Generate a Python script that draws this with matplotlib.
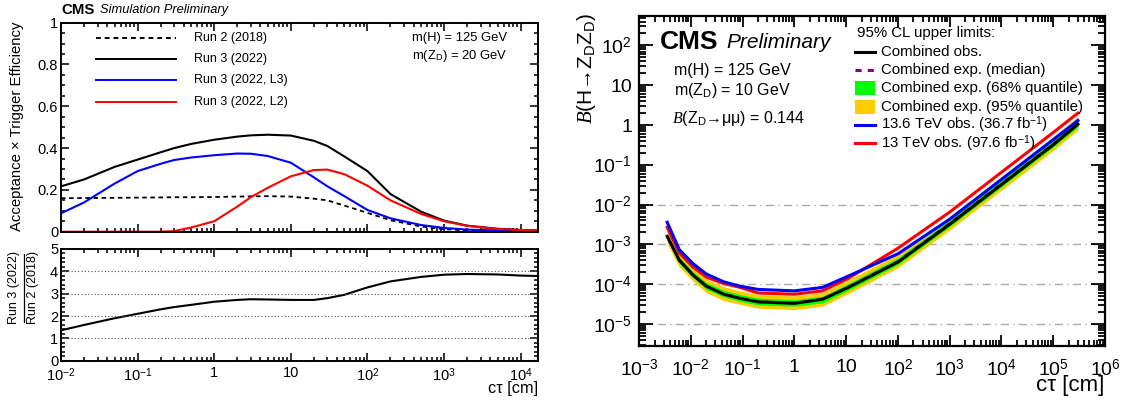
import numpy as np
import matplotlib
matplotlib.use("Agg")
import matplotlib.pyplot as plt
from matplotlib.ticker import LogLocator, FuncFormatter, MultipleLocator, NullFormatter
from matplotlib.lines import Line2D
from matplotlib.patches import Rectangle

# ---- left: acceptance x trigger efficiency vs ctau (m(ZD) = 20 GeV)
ct_eff = [0.01, 0.02, 0.05, 0.1, 0.2, 0.3, 0.5, 1, 2, 3, 5, 10, 20, 30, 50,
          100, 200, 500, 1000, 2000, 5000, 1e4, 1.7e4]
eff_run2 = [0.160, 0.161, 0.162, 0.163, 0.164, 0.165, 0.165, 0.166, 0.168, 0.169, 0.170, 0.168,
            0.158, 0.150, 0.125, 0.090, 0.055, 0.025, 0.012, 0.006, 0.003, 0.002, 0.0015]
eff_run3 = [0.217, 0.250, 0.310, 0.345, 0.380, 0.400, 0.420, 0.440, 0.455, 0.461, 0.464, 0.460,
            0.435, 0.410, 0.360, 0.290, 0.180, 0.096, 0.053, 0.029, 0.014, 0.008, 0.006]
eff_l3 = [0.088, 0.140, 0.230, 0.290, 0.325, 0.343, 0.355, 0.366, 0.374, 0.373, 0.362, 0.330,
          0.260, 0.217, 0.170, 0.104, 0.064, 0.032, 0.018, 0.010, 0.006, 0.003, 0.002]
eff_l2 = [0.0, 0.0, 0.0, 0.0, 0.0, 0.003, 0.020, 0.050, 0.120, 0.165, 0.210, 0.265,
          0.295, 0.297, 0.275, 0.220, 0.150, 0.085, 0.050, 0.028, 0.013, 0.008, 0.006]
ratio = [1.36, 1.60, 1.90, 2.10, 2.30, 2.40, 2.50, 2.64, 2.72, 2.75, 2.74, 2.72,
         2.72, 2.80, 2.95, 3.28, 3.55, 3.75, 3.85, 3.88, 3.86, 3.81, 3.79]

# ---- right: 95% CL upper limits on B(H->ZDZD), m(ZD) = 10 GeV
ct_lim = [0.0035, 0.006, 0.011, 0.02, 0.043, 0.09, 0.2, 1.0, 3.5, 11, 100, 1000, 1e4, 1e5, 3e5]
obs_comb = [1.6e-3, 4.0e-4, 1.7e-4, 8.9e-5, 5.6e-5, 4.4e-5, 3.6e-5, 3.3e-5, 4.2e-5, 8.3e-5,
            3.6e-4, 3.2e-3, 3.2e-2, 0.32, 1.05]
exp_med = [1.55e-3, 4.0e-4, 1.75e-4, 9.0e-5, 5.8e-5, 4.5e-5, 3.7e-5, 3.4e-5, 4.1e-5, 8.5e-5,
           3.8e-4, 3.4e-3, 3.4e-2, 0.34, 1.1]
exp_68_lo = [1.27e-3, 3.3e-4, 1.45e-4, 7.4e-5, 4.8e-5, 3.7e-5, 3.0e-5, 2.8e-5, 3.4e-5, 7.0e-5,
             3.1e-4, 2.8e-3, 2.8e-2, 0.28, 0.90]
exp_68_hi = [1.9e-3, 4.9e-4, 2.1e-4, 1.1e-4, 7.1e-5, 5.5e-5, 4.5e-5, 4.1e-5, 5.0e-5, 1.04e-4,
             4.6e-4, 4.1e-3, 4.1e-2, 0.41, 1.34]
exp_95_lo = [1.05e-3, 2.7e-4, 1.2e-4, 6.1e-5, 3.9e-5, 3.1e-5, 2.5e-5, 2.3e-5, 2.8e-5, 5.8e-5,
             2.6e-4, 2.3e-3, 2.3e-2, 0.23, 0.75]
exp_95_hi = [2.3e-3, 6.0e-4, 2.6e-4, 1.35e-4, 8.7e-5, 6.8e-5, 5.5e-5, 5.1e-5, 6.2e-5, 1.28e-4,
             5.7e-4, 5.1e-3, 5.1e-2, 0.51, 1.65]
obs_136 = [3.6e-3, 7.4e-4, 3.3e-4, 1.8e-4, 1.15e-4, 8.9e-5, 7.4e-5, 6.8e-5, 8.3e-5, 1.6e-4,
           5.8e-4, 4.3e-3, 4.3e-2, 0.43, 1.3]
obs_13 = [2.7e-3, 6.1e-4, 2.7e-4, 1.5e-4, 1.04e-4, 8.3e-5, 6.0e-5, 5.6e-5, 6.8e-5, 1.4e-4,
          8.0e-4, 6.5e-3, 6.5e-2, 0.65, 2.0]

plt.rcParams['font.family'] = ['Liberation Sans', 'DejaVu Sans']
plt.rcParams['mathtext.fontset'] = 'custom'
plt.rcParams['mathtext.rm'] = 'Liberation Sans'
plt.rcParams['mathtext.it'] = 'Liberation Serif:italic'
plt.rcParams['mathtext.bf'] = 'Liberation Sans:bold'

W, H = 1126, 403


def fpos(x, y):
    # pixel position in the reference -> figure fraction
    return x / W, 1 - y / H


def pow10_fmt(lo, hi):
    # ROOT-like labels: 10^n, but plain 1 and 10; nothing outside the range
    def f(v, pos):
        if v < lo * 0.999 or v > hi * 1.001:
            return ''
        e = int(round(np.log10(v)))
        if e == 0:
            return '1'
        if e == 1:
            return '10'
        return r'$10^{%d}$' % e
    return FuncFormatter(f)


def root_style(ax, lw, maj, mino):
    for s in ax.spines.values():
        s.set_linewidth(lw)
    ax.tick_params(which='both', direction='in', top=True, right=True, width=lw * 0.8)
    ax.tick_params(which='major', length=maj)
    ax.tick_params(which='minor', length=mino)


fig = plt.figure(figsize=(W / 100, H / 100), dpi=100)

ax1 = fig.add_axes([61 / W, 1 - 231.7 / H, 477.3 / W, 209 / H])
ax2 = fig.add_axes([61 / W, 1 - 360.7 / H, 477.3 / W, 111.7 / H], sharex=ax1)
ax3 = fig.add_axes([639 / W, 1 - 346 / H, 466 / W, 330 / H])

# ---------------- left top
ax1.plot(ct_eff, eff_run2, color='black', lw=1.3, ls=(0, (2.5, 2)))
ax1.plot(ct_eff, eff_run3, color='black', lw=1.5)
ax1.plot(ct_eff, eff_l3, color='#0000ff', lw=1.5)
ax1.plot(ct_eff, eff_l2, color='#ff0000', lw=1.5)
ax1.set_xscale('log')
ax1.set_xlim(1e-2, 1.7e4)
ax1.set_ylim(0, 1.0)
ax1.yaxis.set_major_locator(MultipleLocator(0.2))
ax1.yaxis.set_minor_locator(MultipleLocator(0.05))
ax1.yaxis.set_major_formatter(FuncFormatter(lambda v, p: '%g' % v))
ax1.xaxis.set_major_locator(LogLocator(base=10, numticks=20))
ax1.xaxis.set_minor_locator(LogLocator(base=10, subs=np.arange(2, 10), numticks=100))
root_style(ax1, 1.4, 6, 3)
ax1.tick_params(axis='x', labelbottom=False)
ax1.tick_params(axis='y', labelsize=10.5, pad=2)

leg_left = [('Run 2 (2018)', 'black', (0, (2.5, 2))), ('Run 3 (2022)', 'black', '-'),
            ('Run 3 (2022, L3)', '#0000ff', '-'), ('Run 3 (2022, L2)', '#ff0000', '-')]
for i, (lab, col, ls) in enumerate(leg_left):
    y = [38.3, 59.3, 80, 101.7][i]
    x0, y0 = fpos(96, y)
    x1, _ = fpos(176, y)
    fig.add_artist(Line2D([x0, x1], [y0, y0], color=col, lw=1.4, ls=ls))
    fig.text(*fpos(193.5, y), lab, fontsize=9, va='center', ha='left')

fig.text(*fpos(412, 38.3), 'm(H) = 125 GeV', fontsize=9.4, va='center')
fig.text(*fpos(412, 56), r'm(Z$_{\mathrm{D}}$) = 20 GeV', fontsize=9.4, va='center')
fig.text(*fpos(61.6, 10), 'CMS', fontsize=10.8, fontweight='bold', va='center')
fig.text(*fpos(100, 10.5), 'Simulation Preliminary', fontsize=9.3, style='italic', va='center')
fig.text(*fpos(17, 126), u'Acceptance \u00d7 Trigger Efficiency', fontsize=10.7,
         rotation=90, va='center', ha='center')

# ---------------- left bottom (ratio)
ax2.plot(ct_eff, ratio, color='black', lw=1.5)
ax2.set_ylim(0, 5)
for yv in [1, 2, 3, 4]:
    ax2.axhline(yv, color='#555555', lw=0.8, ls=(0, (1, 2)))
ax2.yaxis.set_major_locator(MultipleLocator(1))
ax2.yaxis.set_minor_locator(MultipleLocator(0.2))
ax2.xaxis.set_major_formatter(pow10_fmt(1e-2, 1.7e4))
ax2.xaxis.set_minor_formatter(NullFormatter())
root_style(ax2, 1.4, 6, 3)
ax2.tick_params(axis='both', labelsize=10.5)
ax2.tick_params(axis='x', pad=4)
ax2.tick_params(axis='y', pad=2)

# ratio label drawn as a fraction: numerator, bar, denominator
fig.text(*fpos(14.5, 288), 'Run 3 (2022)', fontsize=9, rotation=90, va='center', ha='center')
fig.text(*fpos(33, 288), 'Run 2 (2018)', fontsize=9, rotation=90, va='center', ha='center')
bx0, by0 = fpos(24, 254)
_, by1 = fpos(24, 322)
fig.add_artist(Line2D([bx0, bx0], [by0, by1], color='black', lw=0.9))
fig.text(*fpos(538, 389), u'c\u03c4 [cm]', fontsize=11.7, ha='right', va='center')

# ---------------- right (limits)
ax3.fill_between(ct_lim, exp_95_lo, exp_95_hi, color='#ffcc00', lw=0)
ax3.fill_between(ct_lim, exp_68_lo, exp_68_hi, color='#00ff00', lw=0)
ax3.plot(ct_lim, exp_med, color='#800080', lw=1.5, ls=(0, (3, 3)))
ax3.plot(ct_lim, obs_13, color='#ff0000', lw=2.2)
ax3.plot(ct_lim, obs_136, color='#0000ff', lw=2.2)
ax3.plot(ct_lim, obs_comb, color='black', lw=2.2)
for yv in [1e-5, 1e-4, 1e-3, 1e-2]:
    ax3.axhline(yv, color='#aaaaaa', lw=1.0, ls=(0, (6, 3, 1, 3)), zorder=0)
ax3.set_xscale('log')
ax3.set_yscale('log')
ax3.set_xlim(1e-3, 1e6)
ax3.set_ylim(2.8e-6, 5.5e2)
for axis, lims in [(ax3.xaxis, (1e-3, 1e6)), (ax3.yaxis, (2.8e-6, 5.5e2))]:
    axis.set_major_locator(LogLocator(base=10, numticks=30))
    axis.set_minor_locator(LogLocator(base=10, subs=np.arange(2, 10), numticks=200))
    axis.set_major_formatter(pow10_fmt(*lims))
    axis.set_minor_formatter(NullFormatter())
root_style(ax3, 1.6, 8, 4)
ax3.tick_params(axis='y', which='major', length=10)
ax3.tick_params(axis='y', which='minor', length=5)
ax3.tick_params(axis='both', labelsize=14)
ax3.tick_params(axis='x', pad=9)
ax3.tick_params(axis='y', pad=5)

fig.text(*fpos(587, 13), r'$B$(H' + u'\u2192' + r'Z$_{\mathrm{D}}$Z$_{\mathrm{D}}$)', fontsize=15,
         rotation=90, va='top', ha='center')
fig.text(*fpos(1104, 386), u'c\u03c4 [cm]', fontsize=16, ha='right', va='center')

fig.text(*fpos(659.6, 42), 'CMS', fontsize=19, fontweight='bold', va='center')
fig.text(*fpos(726, 43), 'Preliminary', fontsize=15, style='italic', va='center')
fig.text(*fpos(674, 70), 'm(H) = 125 GeV', fontsize=11.5, va='center')
fig.text(*fpos(674, 90), r'm(Z$_{\mathrm{D}}$) = 10 GeV', fontsize=11.5, va='center')
fig.text(*fpos(672, 119), r'$B$(Z$_{\mathrm{D}}$' + u'\u2192\u03bc\u03bc) = 0.144', fontsize=11.5,
         va='center')

# legend of the limit plot
leg_right = [('Combined obs.', 'line', 'black', '-'),
             ('Combined exp. (median)', 'line', '#800080', (0, (2, 2))),
             ('Combined exp. (68% quantile)', 'box', '#00ff00', None),
             ('Combined exp. (95% quantile)', 'box', '#ffcc00', None),
             (r'13.6 TeV obs. (36.7 fb$^{\mathregular{-1}}$)', 'line', '#0000ff', '-'),
             (r'13 TeV obs. (97.6 fb$^{\mathregular{-1}}$)', 'line', '#ff0000', '-')]
fig.text(*fpos(857, 33.3), '95% CL upper limits:', fontsize=10.8, va='center')
for i, (lab, kind, col, ls) in enumerate(leg_right):
    y = 51.7 + 18.3 * i
    x0, y0 = fpos(855, y)
    x1, _ = fpos(875, y)
    if kind == 'line':
        fig.add_artist(Line2D([x0, x1], [y0, y0], color=col, lw=2.2, ls=ls))
    else:
        bx, by = fpos(855, y + 7)
        fig.add_artist(Rectangle((bx, by), 20 / W, 14 / H, color=col, lw=0,
                                 transform=fig.transFigure))
    fig.text(*fpos(880.7, y), lab, fontsize=10.8, va='center')

fig.savefig('out.png', dpi=100)
